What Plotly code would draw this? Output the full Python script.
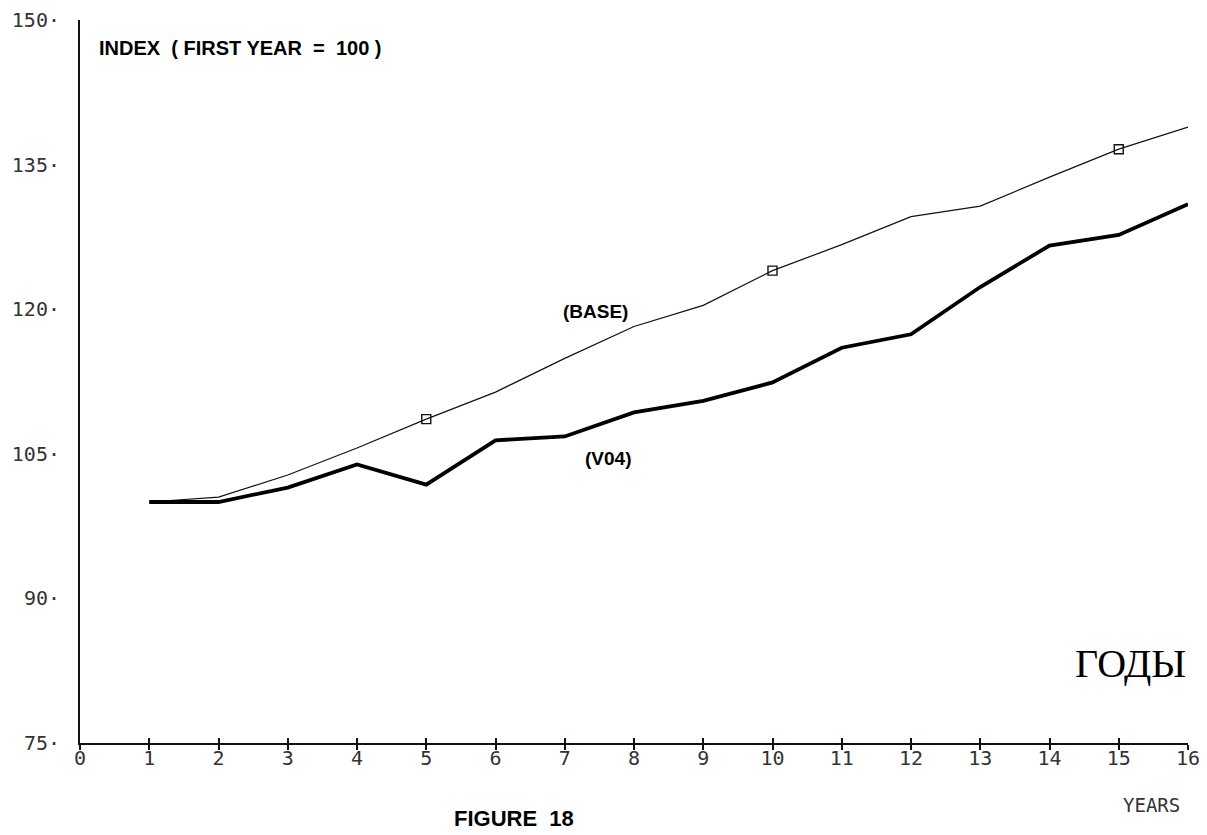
import plotly.graph_objects as go

years = list(range(1, 17))
base = [100.0, 100.5, 102.8, 105.6, 108.6, 111.4, 114.9, 118.2, 120.4, 124.0,
        126.7, 129.6, 130.7, 133.7, 136.6, 138.9]
v04 = [100.0, 100.0, 101.5, 103.9, 101.8, 106.4, 106.8, 109.3, 110.5, 112.4,
       116.0, 117.4, 122.3, 126.6, 127.7, 130.9]
marker_years = [5, 10, 15]
x_ticks = list(range(0, 17))
y_ticks = [75, 90, 105, 120, 135, 150]

fig = go.Figure()
fig.add_trace(go.Scatter(x=years, y=base, mode="lines",
                         line=dict(color="#111", width=1.2), showlegend=False))
fig.add_trace(go.Scatter(x=marker_years, y=[base[years.index(m)] for m in marker_years],
                         mode="markers",
                         marker=dict(symbol="square-open", size=9, color="#111",
                                     line=dict(width=1.4)),
                         showlegend=False))
fig.add_trace(go.Scatter(x=years, y=v04, mode="lines",
                         line=dict(color="#000", width=3.8), showlegend=False))
# invisible trace to anchor the overlay axis (inner half of crossing ticks)
fig.add_trace(go.Scatter(x=[0], y=[75], xaxis="x2", mode="markers",
                         marker=dict(opacity=0), showlegend=False, hoverinfo="skip"))

tick_font = dict(family="DejaVu Sans Mono", size=20, color="#333")

fig.update_layout(
    width=1199, height=827,
    margin=dict(l=72, r=19, t=12, b=92),
    paper_bgcolor="white", plot_bgcolor="white",
    xaxis=dict(range=[0, 16], tickvals=x_ticks, ticktext=[str(v) for v in x_ticks],
               showgrid=False, zeroline=False, showline=True, linecolor="#111",
               linewidth=1.5, ticks="outside", ticklen=5, tickwidth=1.5,
               tickcolor="#111", tickfont=tick_font, ticklabelstandoff=-9,
               automargin=False),
    xaxis2=dict(range=[0, 16], overlaying="x", anchor="y", side="bottom",
                tickvals=x_ticks, showticklabels=False, showgrid=False,
                zeroline=False, showline=False, ticks="inside", ticklen=5,
                tickwidth=1.5, tickcolor="#111", automargin=False),
    yaxis=dict(range=[75, 150], tickvals=y_ticks,
               ticktext=[f"{v}\u00b7" for v in y_ticks],
               showgrid=False, zeroline=False, showline=True, linecolor="#111",
               linewidth=2, ticks="", ticklabelstandoff=14, tickfont=tick_font,
               automargin=False),
)

ann_bold = dict(family="Liberation Sans", size=19, color="#000", weight="bold")
fig.add_annotation(x=0.25, y=147.1, xref="x", yref="y",
                   text="INDEX  ( FIRST YEAR  =  100 )",
                   showarrow=False, xanchor="left", yanchor="middle",
                   font=dict(family="Liberation Sans", size=20, color="#000", weight="bold"))
fig.add_annotation(x=7.44, y=119.8, xref="x", yref="y", text="(BASE)",
                   showarrow=False, font=ann_bold)
fig.add_annotation(x=7.62, y=104.5, xref="x", yref="y", text="(V04)",
                   showarrow=False, font=ann_bold)
fig.add_annotation(x=16, y=83.2, xref="x", yref="y", text="ГОДЫ",
                   showarrow=False, xanchor="right",
                   font=dict(family="Liberation Serif", size=40, color="#000"))
fig.add_annotation(x=0.9675, y=-0.0858, xref="paper", yref="paper", text="YEARS",
                   showarrow=False, xanchor="center", yanchor="middle",
                   font=dict(family="DejaVu Sans Mono", size=19, color="#333"))
fig.add_annotation(x=0.3917, y=-0.0844, xref="paper", yref="paper", text="FIGURE  18",
                   showarrow=False, xanchor="center", yanchor="top",
                   font=dict(family="Liberation Sans", size=22, color="#000", weight="bold"))

fig.write_html("out.html")
